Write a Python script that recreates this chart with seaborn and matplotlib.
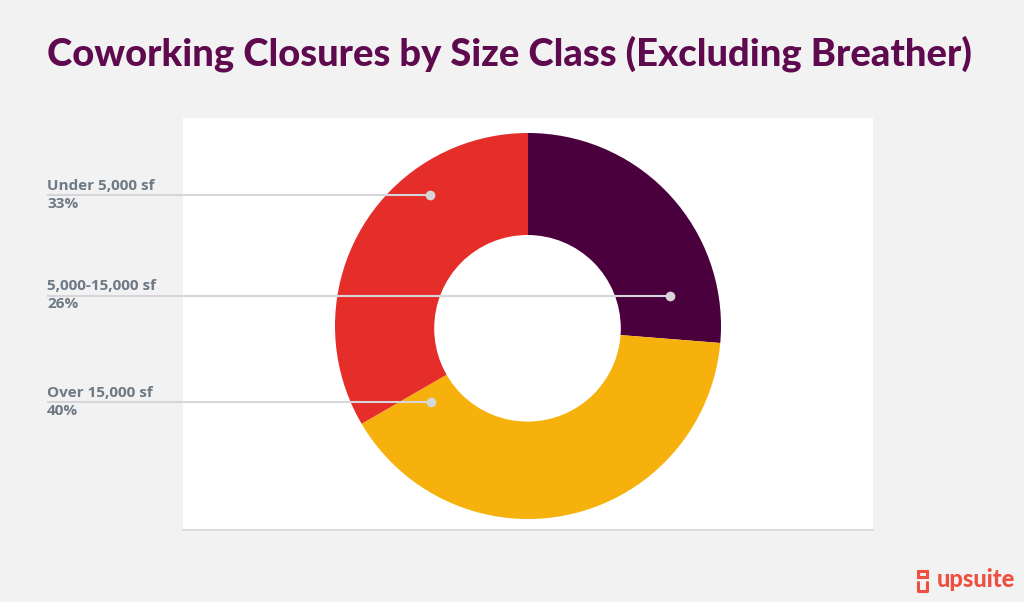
import matplotlib
matplotlib.use("Agg")
import matplotlib.pyplot as plt
from matplotlib.patches import Rectangle, Circle
import seaborn as sns

categories = ["5,000-15,000 sf", "Over 15,000 sf", "Under 5,000 sf"]
values = [26, 40, 33]
colors = ["#4a003d", "#f6b10d", "#e52d2a"]
title = "Coworking Closures by Size Class (Excluding Breather)"

sns.set_theme(style="white")
plt.rcParams["font.family"] = ["Lato", "DejaVu Sans"]
W, H = 1024, 602
BG = "#f2f2f2"
fig = plt.figure(figsize=(W / 100, H / 100), dpi=100, facecolor=BG)

def Y(y):
    return H - y

# white panel
bg = fig.add_axes([0, 0, 1, 1], zorder=0)
bg.set_xlim(0, W); bg.set_ylim(0, H); bg.axis("off"); bg.patch.set_alpha(0)
bg.add_patch(Rectangle((183, Y(530)), 690, 412, fc="white", ec="none"))
bg.plot([183, 873], [Y(530), Y(530)], color="#dcdcdc", lw=1.5)

# donut: the wedges meet slightly below the centre of the outer circle
ax = fig.add_axes([0, 0, 1, 1], zorder=1)
ax.patch.set_alpha(0)
wedges, _ = ax.pie(values, colors=colors, startangle=90, counterclock=False,
                   radius=200, center=(528, Y(327.7)), wedgeprops=dict(linewidth=0))
ax.set_xlim(0, W); ax.set_ylim(0, H); ax.set_aspect("auto"); ax.axis("off")
outer = Circle((528, Y(326)), 193, transform=ax.transData)
for w in wedges:
    w.set_clip_on(True)
    w.set_clip_path(outer)
ax.add_patch(Circle((527.5, Y(328.3)), 93.3, fc="white", ec="none", zorder=5))

# overlay
ov = fig.add_axes([0, 0, 1, 1], zorder=3)
ov.set_xlim(0, W); ov.set_ylim(0, H); ov.axis("off"); ov.patch.set_alpha(0)

ov.text(47, Y(54), title, fontsize=27.45, fontweight="black", color="#5f0a4f", va="center", ha="left")

label_rows = [
    (2, 195, 430, 186, 204),
    (0, 295.5, 670, 286, 304),
    (1, 402, 431, 393, 411),
]
for idx, ly, ex, y1, y2 in label_rows:
    ov.plot([47, ex], [Y(ly), Y(ly)], color="#d5d5da", lw=1.5, solid_capstyle="butt")
    ov.plot([ex], [Y(ly)], "o", ms=7, color="#d5d5da", mec="none")
    ov.text(47, Y(y1), categories[idx], fontsize=11, fontweight="bold", family="Open Sans", color="#6d7a85", va="center")
    ov.text(47, Y(y2), f"{values[idx]}%", fontsize=11, fontweight="bold", family="Open Sans", color="#6d7a85", va="center")

# logo
lc = "#ee4f40"
ov.add_patch(Rectangle((917.5, Y(577)), 9, 6.5, fc="none", ec=lc, lw=2.2))
ov.plot([917.5, 917.5, 926.5, 926.5], [Y(582), Y(590.5), Y(590.5), Y(582)], color=lc, lw=2.2)
ov.text(937, Y(579.5), "upsuite", fontsize=17, fontweight="black", color=lc, va="center", ha="left")

fig.savefig("out.png", dpi=100, facecolor=BG)
